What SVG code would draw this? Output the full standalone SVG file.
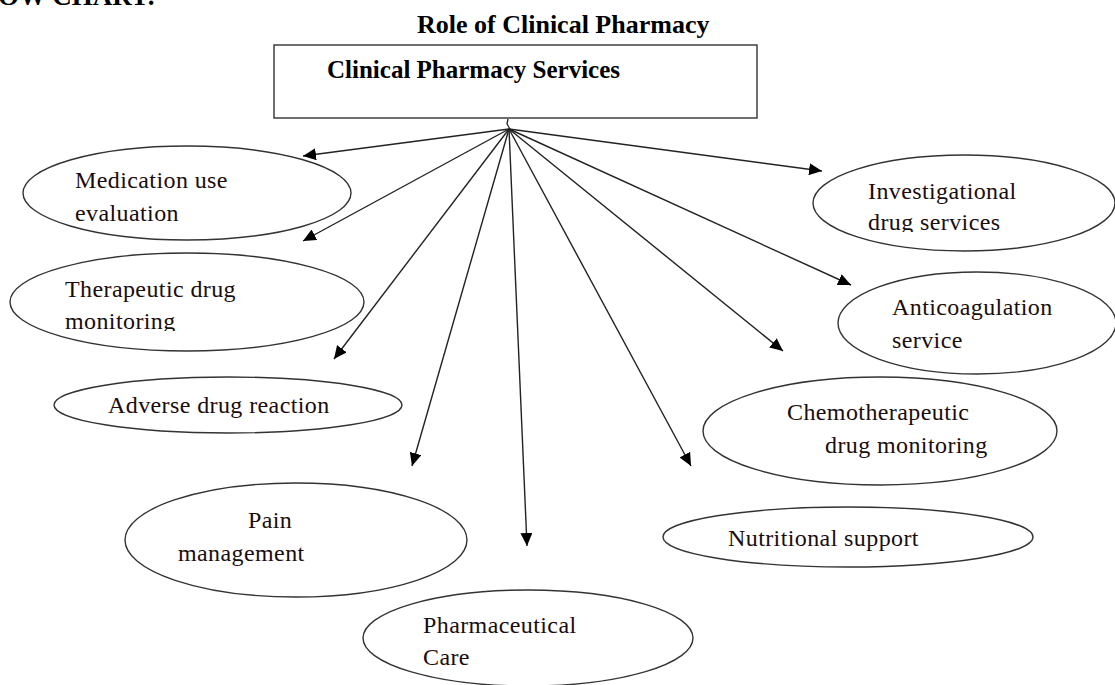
<svg xmlns="http://www.w3.org/2000/svg" width="1115" height="685" viewBox="0 0 1115 685">
<style>
.lbl{font-family:"Liberation Serif","Times New Roman",serif;font-size:24px;letter-spacing:0.4px;fill:#1a0d0d}
.bold{font-family:"Liberation Serif","Times New Roman",serif;font-weight:bold;fill:#000}
.ell{fill:#fff;stroke:#333;stroke-width:1.4}
.conn line{stroke:#222;stroke-width:1.4;marker-end:url(#ah)}
</style>
<defs>
<marker id="ah" markerUnits="userSpaceOnUse" markerWidth="14" markerHeight="12" refX="13" refY="6" orient="auto">
<path d="M0,0 L13,6 L0,12 Z" fill="#000"/>
</marker>
<clipPath id="clipTher"><rect x="0" y="0" width="1115" height="331"/></clipPath>
<clipPath id="clipInv"><rect x="0" y="0" width="1115" height="232"/></clipPath>
</defs>
<rect width="1115" height="685" fill="#fff"/>
<text class="bold" x="-2" y="5" font-size="27">OW CHART:</text>
<text class="bold" x="417" y="33" font-size="26">Role of Clinical Pharmacy</text>
<g id="hub">
<rect x="274" y="45" width="483" height="73" fill="#fff" stroke="#333" stroke-width="1.4"/>
<text class="bold" x="327" y="78" font-size="25" fill="#0d0d1a">Clinical Pharmacy Services</text>
</g>
<g id="med"><ellipse class="ell" cx="187" cy="193" rx="164" ry="47"/>
<text class="lbl" x="75" y="188">Medication use</text><text class="lbl" x="75" y="221">evaluation</text></g>
<g id="ther"><ellipse class="ell" cx="187" cy="302" rx="177" ry="49"/>
<g clip-path="url(#clipTher)"><text class="lbl" x="65" y="297">Therapeutic drug</text><text class="lbl" x="65" y="329">monitoring</text></g></g>
<g id="adv"><ellipse class="ell" cx="228" cy="405" rx="174" ry="28"/>
<text class="lbl" x="108" y="413">Adverse drug reaction</text></g>
<g id="pain"><ellipse class="ell" cx="296" cy="540" rx="171" ry="57"/>
<text class="lbl" x="248" y="528">Pain</text><text class="lbl" x="178" y="561">management</text></g>
<g id="pharm"><ellipse class="ell" cx="528" cy="638" rx="165" ry="48"/>
<text class="lbl" x="423" y="633">Pharmaceutical</text><text class="lbl" x="423" y="665">Care</text></g>
<g id="nutr"><ellipse class="ell" cx="848" cy="537" rx="185" ry="30"/>
<text class="lbl" x="728" y="546">Nutritional support</text></g>
<g id="chemo"><ellipse class="ell" cx="880" cy="431" rx="177" ry="54"/>
<text class="lbl" x="787" y="420">Chemotherapeutic</text><text class="lbl" x="825" y="453">drug monitoring</text></g>
<g id="anti"><ellipse class="ell" cx="977" cy="323" rx="139" ry="51"/>
<text class="lbl" x="892" y="315">Anticoagulation</text><text class="lbl" x="892" y="348">service</text></g>
<g id="inv"><ellipse class="ell" cx="964" cy="203" rx="151" ry="48"/>
<g clip-path="url(#clipInv)"><text class="lbl" x="868" y="199">Investigational</text><text class="lbl" x="868" y="230">drug services</text></g></g>
<g id="connectors" class="conn">
<path d="M508,119 L507,124 L510,129" fill="none" stroke="#222" stroke-width="1.3"/>
<line x1="509" y1="129" x2="303" y2="156"/>
<line x1="509" y1="129" x2="303" y2="241"/>
<line x1="509" y1="129" x2="334" y2="359"/>
<line x1="509" y1="129" x2="412" y2="466"/>
<line x1="509" y1="129" x2="527" y2="546"/>
<line x1="509" y1="129" x2="691" y2="466"/>
<line x1="509" y1="129" x2="783" y2="351"/>
<line x1="509" y1="129" x2="851" y2="285"/>
<line x1="509" y1="129" x2="822" y2="171"/>
</g>
</svg>
